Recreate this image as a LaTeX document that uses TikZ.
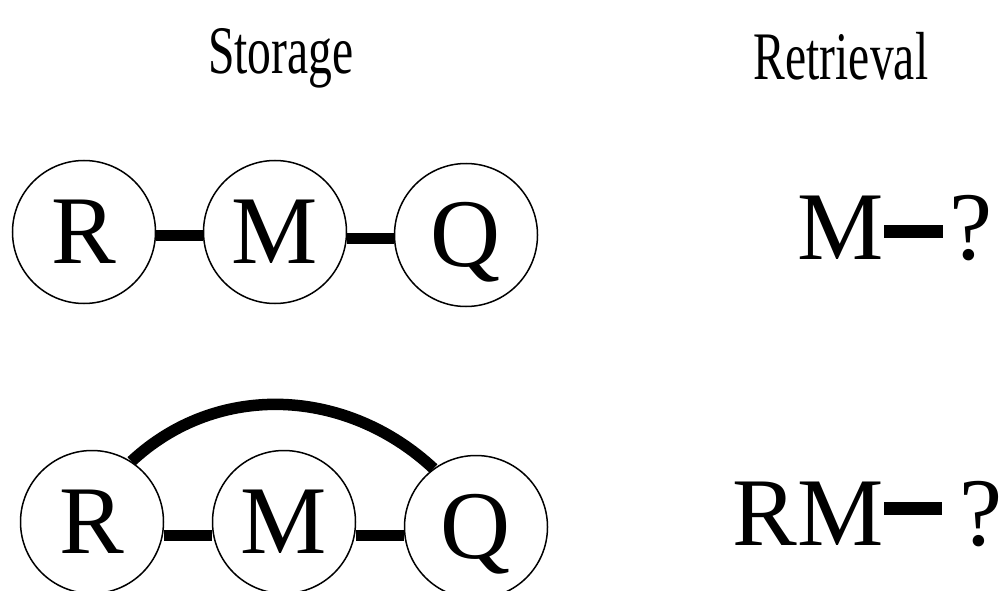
\documentclass[tikz,border=0pt]{standalone}
\usepackage{fontspec}
\setmainfont{Liberation Serif}
\begin{document}
\begin{tikzpicture}[x=1pt,y=1pt,
  state/.style={circle, draw, line width=1.5pt, minimum size=143pt, inner sep=0pt,
    font=\fontsize{97}{97}\selectfont, text height=63.5pt, text depth=0pt},
  link/.style={line width=11pt, line cap=butt},
  glyph/.style={inner sep=0pt, font=\fontsize{97}{97}\selectfont},
  heading/.style={inner sep=0pt, anchor=base, font=\fontsize{68}{68}\selectfont}]
\useasboundingbox (0,0) rectangle (1001,-591);

% column headings
\node[heading] (hs) at (281,-74) {\scalebox{0.70}[1]{Storage}};
\node[heading] (hr) at (841,-80) {\scalebox{0.70}[1]{Retrieval}};

% first chain
\node[state] (R1) at (84,-232) {R};
\node[state] (M1) at (275,-232) {M};
\node[state] (Q1) at (466,-235) {Q};
\draw[link] ([yshift=-3.5pt]R1.east) -- ([yshift=-3.5pt]M1.west);
\draw[link] ([yshift=-6pt]M1.east) -- ([yshift=-3pt]Q1.west);

% second chain with the long-range link
\node[state] (R2) at (92,-522) {R};
\node[state] (M2) at (284,-522) {M};
\node[state] (Q2) at (476,-527) {Q};
\draw[link] ([yshift=-13pt]R2.east) -- ([yshift=-13pt]M2.west);
\draw[link] ([yshift=-13.5pt]M2.east) -- ([yshift=-8.5pt]Q2.west);
\draw[link, line width=11.5pt] (R2.57) to[out=43,in=137] (Q2.126);

% retrieval cues
\node[glyph, anchor=base east] (cM) at (884,-259) {M};
\node[glyph, anchor=base west] (cq1) at (949,-259) {?};
\draw[link, line width=13pt] ([yshift=27.5pt]cM.base east) -- ([xshift=-6pt,yshift=27.5pt]cq1.base west);

\node[glyph, anchor=base east] (cRM) at (884,-545) {RM};
\node[glyph, anchor=base west] (cq2) at (959,-545) {?};
\draw[link, line width=13pt] ([yshift=36.5pt]cRM.base east) -- ([xshift=-17pt,yshift=36.5pt]cq2.base west);
\end{tikzpicture}
\end{document}
